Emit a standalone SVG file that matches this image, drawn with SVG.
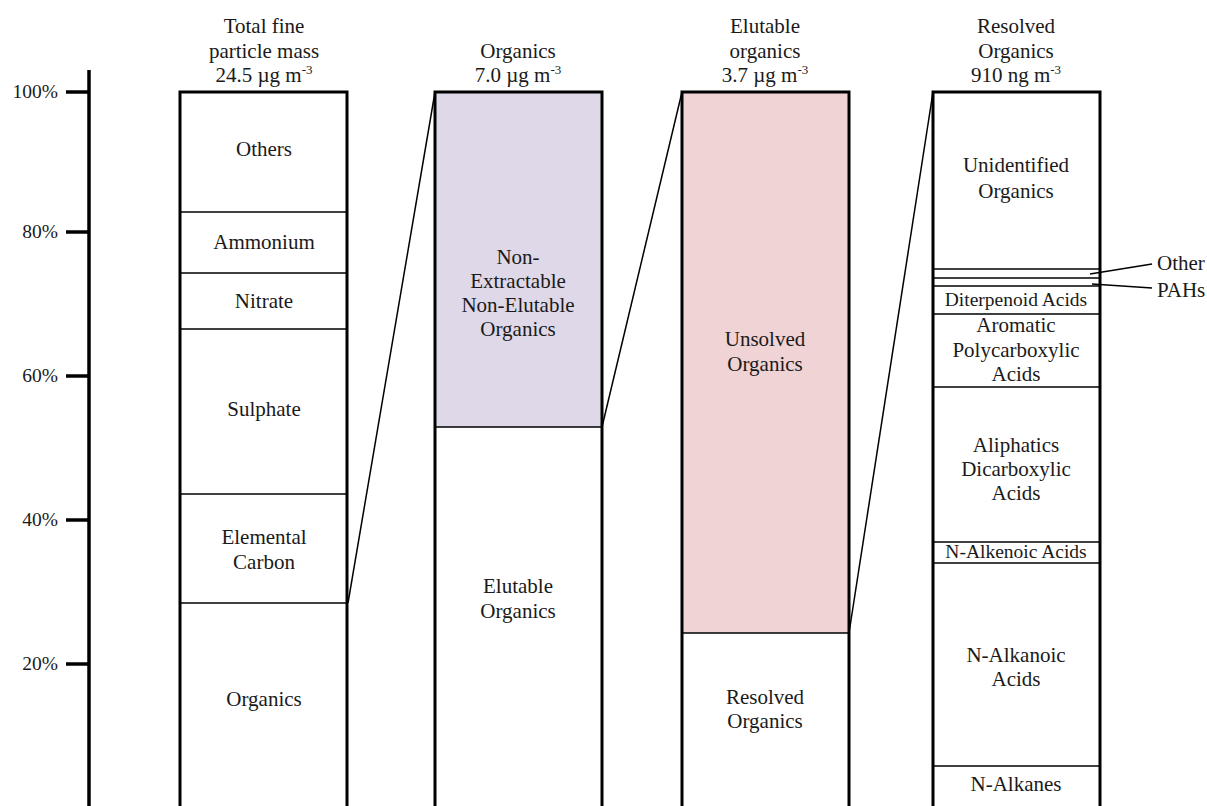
<svg xmlns="http://www.w3.org/2000/svg" width="1207" height="806" viewBox="0 0 1207 806">
<style>
text{font-family:"Liberation Serif","Times New Roman",serif;font-size:21px;fill:#1a1a1a;text-anchor:middle}
.sm{font-size:19.5px}
.tick{text-anchor:end;font-size:19.5px}
.lbl{text-anchor:start}
.sup{font-size:13px}
.box{fill:none;stroke:#000;stroke-width:3}
.div{stroke:#000;stroke-width:1.5}
.con{stroke:#000;stroke-width:1.5;fill:none}
</style>
<rect width="1207" height="806" fill="#fff"/>
<g id="axis">
<line x1="89" y1="70" x2="89" y2="810" stroke="#000" stroke-width="3.5"/>
<g stroke="#000" stroke-width="3.5">
<line x1="66" y1="92" x2="89" y2="92"/>
<line x1="66" y1="232" x2="89" y2="232"/>
<line x1="66" y1="376" x2="89" y2="376"/>
<line x1="66" y1="520" x2="89" y2="520"/>
<line x1="66" y1="664" x2="89" y2="664"/>
</g>
<text class="tick" x="58" y="98">100%</text>
<text class="tick" x="58" y="238">80%</text>
<text class="tick" x="58" y="382">60%</text>
<text class="tick" x="58" y="526">40%</text>
<text class="tick" x="58" y="670">20%</text>
</g>
<g id="connectors">
<line class="con" x1="348" y1="603" x2="435" y2="92"/>
<line class="con" x1="602" y1="427" x2="682" y2="92"/>
<line class="con" x1="849" y1="633" x2="933" y2="92"/>
<line class="con" x1="1090" y1="274" x2="1152" y2="264"/>
<line class="con" x1="1092" y1="284" x2="1152" y2="288"/>
</g>
<g id="bar1">
<text x="264" y="33">Total fine</text>
<text x="264" y="58">particle mass</text>
<text x="264" y="82">24.5 µg m<tspan class="sup" dy="-8">-3</tspan></text>
<line class="div" x1="180" y1="212" x2="348" y2="212"/>
<line class="div" x1="180" y1="273" x2="348" y2="273"/>
<line class="div" x1="180" y1="329" x2="348" y2="329"/>
<line class="div" x1="180" y1="494" x2="348" y2="494"/>
<line class="div" x1="180" y1="603" x2="348" y2="603"/>
<rect class="box" x="180" y="92" width="167" height="720"/>
<text x="264" y="156">Others</text>
<text x="264" y="249">Ammonium</text>
<text x="264" y="308">Nitrate</text>
<text x="264" y="416">Sulphate</text>
<text x="264" y="544">Elemental</text>
<text x="264" y="569">Carbon</text>
<text x="264" y="706">Organics</text>
</g>
<g id="bar2">
<text x="518" y="58">Organics</text>
<text x="518" y="82">7.0 µg m<tspan class="sup" dy="-8">-3</tspan></text>
<rect x="435" y="92" width="167" height="335" fill="#DFD8E8"/>
<line class="div" x1="435" y1="427" x2="602" y2="427"/>
<rect class="box" x="435" y="92" width="167" height="720"/>
<text x="518" y="264">Non-</text>
<text x="518" y="288">Extractable</text>
<text x="518" y="312">Non-Elutable</text>
<text x="518" y="336">Organics</text>
<text x="518" y="593">Elutable</text>
<text x="518" y="618">Organics</text>
</g>
<g id="bar3">
<text x="765" y="33">Elutable</text>
<text x="765" y="58">organics</text>
<text x="765" y="82">3.7 µg m<tspan class="sup" dy="-8">-3</tspan></text>
<rect x="682" y="92" width="167" height="541" fill="#F0D3D5"/>
<line class="div" x1="682" y1="633" x2="849" y2="633"/>
<rect class="box" x="682" y="92" width="167" height="720"/>
<text x="765" y="346">Unsolved</text>
<text x="765" y="371">Organics</text>
<text x="765" y="704">Resolved</text>
<text x="765" y="728">Organics</text>
</g>
<g id="bar4">
<text x="1016" y="33">Resolved</text>
<text x="1016" y="58">Organics</text>
<text x="1016" y="82">910 ng m<tspan class="sup" dy="-8">-3</tspan></text>
<line class="div" x1="933" y1="269" x2="1100" y2="269"/>
<line class="div" x1="933" y1="278" x2="1100" y2="278"/>
<line class="div" x1="933" y1="286" x2="1100" y2="286"/>
<line class="div" x1="933" y1="314" x2="1100" y2="314"/>
<line class="div" x1="933" y1="387" x2="1100" y2="387"/>
<line class="div" x1="933" y1="542" x2="1100" y2="542"/>
<line class="div" x1="933" y1="563" x2="1100" y2="563"/>
<line class="div" x1="933" y1="766" x2="1100" y2="766"/>
<rect class="box" x="933" y="92" width="167" height="720"/>
<text x="1016" y="172">Unidentified</text>
<text x="1016" y="198">Organics</text>
<text class="sm" x="1016" y="306">Diterpenoid Acids</text>
<text x="1016" y="332">Aromatic</text>
<text x="1016" y="357">Polycarboxylic</text>
<text x="1016" y="381">Acids</text>
<text x="1016" y="452">Aliphatics</text>
<text x="1016" y="476">Dicarboxylic</text>
<text x="1016" y="500">Acids</text>
<text class="sm" x="1016" y="558">N-Alkenoic Acids</text>
<text x="1016" y="662">N-Alkanoic</text>
<text x="1016" y="686">Acids</text>
<text x="1016" y="791">N-Alkanes</text>
<text class="lbl" x="1157" y="270">Other</text>
<text class="lbl" x="1157" y="297">PAHs</text>
</g>
</svg>
